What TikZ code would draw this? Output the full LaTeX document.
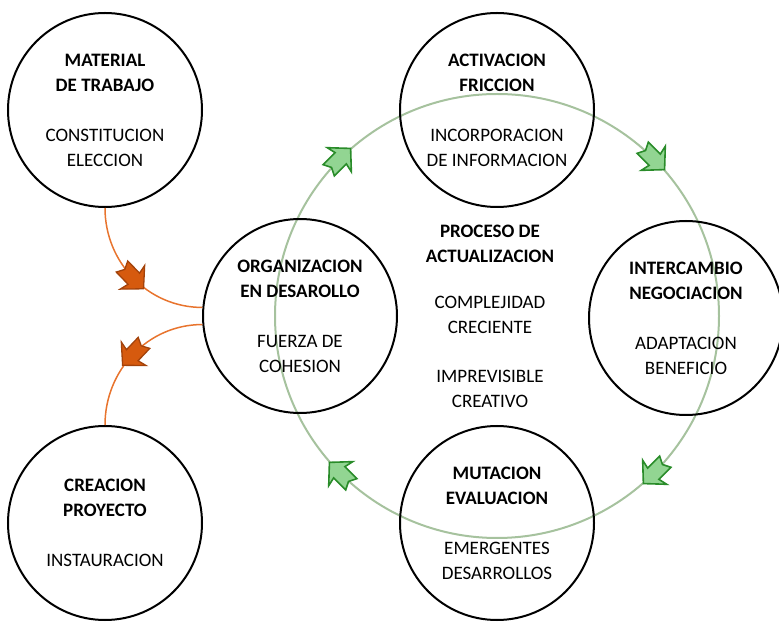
\documentclass[tikz,border=0pt]{standalone}
\usepackage{fontspec}
\setmainfont{Carlito}
\usetikzlibrary{decorations.markings}

\definecolor{ringgreen}{HTML}{A6C29E}
\definecolor{arrgreenfill}{HTML}{92D592}
\definecolor{arrgreenline}{HTML}{2A8C2A}
\definecolor{orangeline}{HTML}{E8742E}
\definecolor{orangefill}{HTML}{D65A0E}
\definecolor{orangeborder}{HTML}{A3420A}

\newcommand\blockarrowshape[1]{%
  \filldraw[#1] (15pt,0pt) -- (-1pt,17pt) -- (1pt,8pt) -- (-16pt,8pt) -- (-12pt,0pt)
    -- (-16pt,-8pt) -- (1pt,-8pt) -- (-1pt,-17pt) -- cycle;}

\begin{document}
\begin{tikzpicture}[x=1pt,y=1pt,
  bubble/.style={circle, draw=black, line width=2pt, minimum size=194pt,
    inner sep=0pt, align=center, font=\fontsize{19}{25}\selectfont},
  plaintext/.style={align=center, inner sep=0pt, font=\fontsize{19}{25}\selectfont},
  greenarrow/.style={fill=arrgreenfill, draw=arrgreenline, line width=1.6pt, line join=miter},
  orangearrow/.style={fill=orangefill, draw=orangeborder, line width=1.3pt, line join=miter},
  ring/.style={draw=ringgreen, line width=2pt,
    postaction={decorate},
    decoration={markings,
      mark=at position 0.125 with {\blockarrowshape{greenarrow}},
      mark=at position 0.375 with {\blockarrowshape{greenarrow}},
      mark=at position 0.625 with {\blockarrowshape{greenarrow}},
      mark=at position 0.875 with {\blockarrowshape{greenarrow}}}},
  link/.style={draw=orangeline, line width=1.5pt,
    postaction={decorate},
    decoration={markings, mark=at position 0.5 with {\blockarrowshape{orangearrow}}}}
]
\useasboundingbox (0,0) rectangle (779,624);

% process ring (clockwise)
\coordinate (ringc) at (497,308);
\path[ring] (719,308) arc[start angle=0, end angle=-360, radius=222];

% circles
\node[bubble] (mat) at (105,514) {\textbf{MATERIAL}\\\textbf{DE TRABAJO}\\[25pt]CONSTITUCION\\ELECCION};
\node[bubble] (act) at (497,514) {\textbf{ACTIVACION}\\\textbf{FRICCION}\\[25pt]INCORPORACION\\DE INFORMACION};
\node[bubble] (org) at (300,308) {\textbf{ORGANIZACION}\\\textbf{EN DESAROLLO}\\[25pt]FUERZA DE\\COHESION};
\node[bubble] (int) at (686,306) {\textbf{INTERCAMBIO}\\\textbf{NEGOCIACION}\\[25pt]ADAPTACION\\BENEFICIO};
\node[bubble] (mut) at (497,101) {\textbf{MUTACION}\\\textbf{EVALUACION}\\[25pt]EMERGENTES\\DESARROLLOS};
\node[bubble] (cre) at (105,101) {\textbf{CREACION}\\\textbf{PROYECTO}\\[25pt]INSTAURACION};

% centre text
\node[plaintext] (proc) at (490,308) {\textbf{PROCESO DE}\\\textbf{ACTUALIZACION}\\[21pt]COMPLEJIDAD\\CRECIENTE\\[24pt]IMPREVISIBLE\\CREATIVO};

% orange connectors
\path[link] (mat.south) to[out=-90, in=180] (org.175);
\path[link] (org.185) to[out=180, in=90] (cre.north);
\end{tikzpicture}
\end{document}
